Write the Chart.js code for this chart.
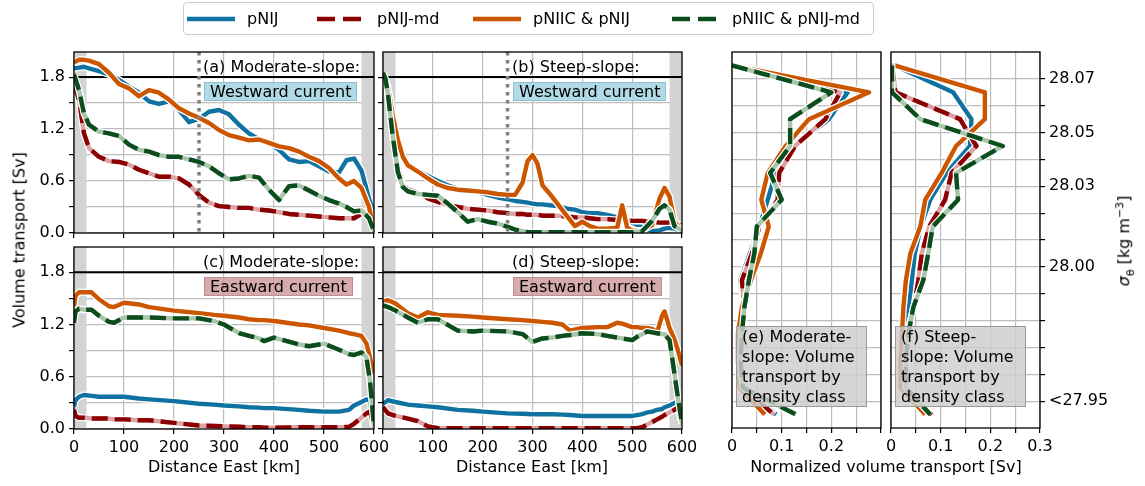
<!DOCTYPE html>
<html lang="en">
<head>
<meta charset="UTF-8">
<title>Volume transport</title>
<script src="https://cdn.jsdelivr.net/npm/chart.js"></script>
<style>
    body { margin: 0; background: #fff; font-family: 'DejaVu Sans', sans-serif; color: #000; }
    #fig { position: relative; width: 1145px; height: 486px; overflow: hidden; }
    #fig canvas { position: absolute; left: 0; top: 0; }
    .txt { position: absolute; font-size: 16px; line-height: 19px; white-space: nowrap; }
    .cur { position: absolute; font-size: 16px; line-height: 17px; padding: 0 5px; white-space: nowrap; }
    .west { background: rgba(173, 216, 230, 0.95); border: 1px solid #8fc0d2; }
    .east { background: rgba(205, 150, 150, 0.8); border: 1px solid #c09090; }
    .note { position: absolute; width: 119px; height: 79px; padding: 0 5px; font-size: 16px; line-height: 20px;
            background: rgba(205, 205, 205, 0.82); border: 1.5px solid #999; }
    .title { position: absolute; font-size: 16px; white-space: nowrap; transform: translate(-50%, -50%); }
    .vtitle { transform: translate(-50%, -50%) rotate(-90deg); }
    #legend { position: absolute; left: 183px; top: 2px; width: 689px; height: 31px; border: 1px solid #ccc;
              border-radius: 4px; background: #fff; }
    .item { position: absolute; top: 0; height: 31px; display: flex; align-items: center; font-size: 16px; }
    .item svg { margin-right: 12px; }
</style>
</head>
<body>
<div id="fig">
    <canvas id="pa" width="1145" height="486"></canvas>
    <canvas id="pb" width="1145" height="486"></canvas>
    <canvas id="pc" width="1145" height="486"></canvas>
    <canvas id="pd" width="1145" height="486"></canvas>
    <canvas id="pe" width="1145" height="486"></canvas>
    <canvas id="pf" width="1145" height="486"></canvas>

    <!-- legend -->
    <div id="legend">
        <div class="item" style="left:3px"><svg width="48" height="10"><line x1="0" y1="5" x2="48" y2="5" stroke="#1072a0" stroke-width="4.4"/></svg>pNIJ</div>
        <div class="item" style="left:133px"><svg width="48" height="10"><line x1="0" y1="5" x2="48" y2="5" stroke="#8b0000" stroke-width="4.4" stroke-dasharray="18 8"/></svg>pNIJ-md</div>
        <div class="item" style="left:289px"><svg width="48" height="10"><line x1="0" y1="5" x2="48" y2="5" stroke="#cc5500" stroke-width="4.4"/></svg>pNIIC &amp; pNIJ</div>
        <div class="item" style="left:488px"><svg width="48" height="10"><line x1="0" y1="5" x2="48" y2="5" stroke="#0b4d1c" stroke-width="4.4" stroke-dasharray="18 8"/></svg>pNIIC &amp; pNIJ-md</div>
    </div>

    <!-- panel notes -->
    <div class="txt" style="left:203px;top:57px">(a) Moderate-slope:</div>
    <div class="cur west" style="left:204px;top:82px">Westward current</div>
    <div class="txt" style="left:512px;top:57px">(b) Steep-slope:</div>
    <div class="cur west" style="left:513px;top:82px">Westward current</div>
    <div class="txt" style="left:203px;top:252px">(c) Moderate-slope:</div>
    <div class="cur east" style="left:204px;top:277px">Eastward current</div>
    <div class="txt" style="left:512px;top:252px">(d) Steep-slope:</div>
    <div class="cur east" style="left:513px;top:277px">Eastward current</div>
    <div class="note" style="left:736px;top:326px">(e) Moderate-<br>slope: Volume<br>transport by<br>density class</div>
    <div class="note" style="left:895px;top:326px">(f) Steep-<br>slope: Volume<br>transport by<br>density class</div>

    <!-- axis titles -->
    <div class="title vtitle" style="left:19px;top:240px">Volume transport [Sv]</div>
    <div class="title" style="left:224px;top:466px">Distance East [km]</div>
    <div class="title" style="left:532px;top:466px">Distance East [km]</div>
    <div class="title" style="left:886px;top:466px">Normalized volume transport [Sv]</div>
    <div class="title vtitle" style="left:1125px;top:241px"><i>σ</i><sub style="font-size:11px">θ</sub> [kg m<sup style="font-size:11px">−3</sup>]</div>
</div>

<script>
    // ---- data ----
    const seriesNames = ['pNIJ', 'pNIJ-md', 'pNIIC & pNIJ', 'pNIIC & pNIJ-md'];

    // (a) moderate slope, westward
    const distA = [0, 10, 20, 30, 50, 70, 90, 110, 130, 150, 170, 190, 210, 230, 250, 270, 290, 310, 330, 350,
                   370, 390, 410, 430, 450, 470, 490, 510, 530, 545, 560, 575, 590, 600];
    const aPNIJ = [1.90, 1.91, 1.92, 1.90, 1.87, 1.83, 1.77, 1.69, 1.62, 1.52, 1.49, 1.52, 1.42, 1.28, 1.32, 1.40,
                   1.42, 1.37, 1.25, 1.15, 1.08, 1.04, 0.96, 0.85, 0.82, 0.83, 0.77, 0.71, 0.70, 0.84, 0.86, 0.72, 0.40, 0.23];
    const aPNIJmd = [1.71, 1.54, 1.15, 0.98, 0.88, 0.83, 0.82, 0.79, 0.73, 0.69, 0.65, 0.65, 0.63, 0.56, 0.44, 0.35,
                     0.31, 0.30, 0.29, 0.29, 0.27, 0.26, 0.24, 0.22, 0.21, 0.20, 0.19, 0.18, 0.17, 0.17, 0.17, 0.22, 0.27, 0.04];
    const aPNIIC = [1.97, 2.00, 2.00, 1.99, 1.95, 1.85, 1.72, 1.67, 1.58, 1.65, 1.62, 1.54, 1.44, 1.38, 1.33, 1.27,
                    1.19, 1.13, 1.10, 1.07, 1.08, 1.04, 1.00, 0.98, 0.94, 0.88, 0.83, 0.75, 0.63, 0.56, 0.60, 0.52, 0.30, 0.04];
    const aPNIICmd = [1.83, 1.65, 1.38, 1.25, 1.17, 1.15, 1.12, 1.02, 0.96, 0.94, 0.90, 0.88, 0.88, 0.85, 0.82, 0.77,
                      0.69, 0.62, 0.63, 0.66, 0.64, 0.50, 0.38, 0.54, 0.55, 0.49, 0.43, 0.38, 0.34, 0.30, 0.25, 0.26, 0.17, 0.02];

    // (b) steep slope, westward
    const distB = [0, 5, 10, 20, 30, 40, 50, 70, 90, 110, 130, 150, 170, 190, 210, 230, 250, 265, 280, 290, 300,
                   310, 320, 335, 350, 370, 385, 400, 415, 430, 450, 470, 480, 490, 500, 520, 540, 555, 565, 575, 585, 600];
    const bPNIJ = [1.80, 1.76, 1.68, 1.30, 1.05, 0.88, 0.80, 0.72, 0.66, 0.60, 0.55, 0.51, 0.49, 0.47, 0.44, 0.41,
                   0.39, 0.37, 0.36, 0.35, 0.34, 0.33, 0.33, 0.32, 0.31, 0.28, 0.27, 0.24, 0.23, 0.23, 0.21, 0.18,
                   0.17, 0.15, 0.12, 0.07, 0.02, 0.03, 0.05, 0.06, 0.05, 0.02];
    const bPNIJmd = [1.82, 1.75, 1.60, 1.10, 0.75, 0.56, 0.50, 0.46, 0.40, 0.36, 0.32, 0.30, 0.28, 0.27, 0.26, 0.24,
                     0.23, 0.22, 0.22, 0.21, 0.21, 0.21, 0.20, 0.20, 0.20, 0.19, 0.18, 0.18, 0.17, 0.16, 0.16, 0.15,
                     0.15, 0.15, 0.14, 0.14, 0.13, 0.12, 0.12, 0.12, 0.11, 0.09];
    const bPNIIC = [1.80, 1.77, 1.69, 1.34, 1.07, 0.88, 0.78, 0.71, 0.63, 0.56, 0.52, 0.50, 0.49, 0.48, 0.47, 0.45,
                    0.44, 0.44, 0.58, 0.83, 0.90, 0.80, 0.55, 0.45, 0.34, 0.19, 0.08, 0.13, 0.08, 0.05, 0.05, 0.06,
                    0.32, 0.06, 0.03, 0.03, 0.09, 0.40, 0.52, 0.42, 0.13, 0.03];
    const bPNIICmd = [1.85, 1.78, 1.60, 1.10, 0.70, 0.53, 0.48, 0.45, 0.44, 0.43, 0.34, 0.24, 0.13, 0.16, 0.13, 0.11,
                      0.07, 0.04, 0.02, 0.01, 0.01, 0.01, 0.01, 0.01, 0.01, 0.01, 0.01, 0.01, 0.01, 0.01, 0.01, 0.01,
                      0.01, 0.01, 0.01, 0.02, 0.14, 0.28, 0.32, 0.27, 0.08, 0.03];

    // (c) moderate slope, eastward
    const distC = [0, 3, 10, 20, 35, 50, 70, 80, 100, 130, 150, 200, 250, 280, 300, 330, 350, 370, 380, 400,
                   450, 470, 500, 530, 550, 560, 575, 585, 592, 600];
    const cPNIJ = [0.26, 0.33, 0.37, 0.39, 0.38, 0.37, 0.37, 0.37, 0.37, 0.35, 0.34, 0.32, 0.29, 0.28, 0.27, 0.26,
                   0.25, 0.245, 0.24, 0.24, 0.22, 0.21, 0.20, 0.20, 0.22, 0.27, 0.31, 0.34, 0.32, 0.03];
    const cPNIJmd = [0.22, 0.15, 0.13, 0.13, 0.12, 0.12, 0.12, 0.11, 0.11, 0.10, 0.10, 0.07, 0.04, 0.035, 0.03, 0.025,
                     0.02, 0.02, 0.015, 0.015, 0.02, 0.02, 0.02, 0.02, 0.025, 0.06, 0.13, 0.18, 0.20, 0.03];
    const cPNIIC = [1.41, 1.53, 1.57, 1.57, 1.57, 1.49, 1.41, 1.40, 1.45, 1.43, 1.40, 1.36, 1.33, 1.31, 1.30, 1.28,
                    1.26, 1.25, 1.25, 1.24, 1.20, 1.19, 1.16, 1.13, 1.10, 1.09, 1.07, 0.98, 0.82, 0.64];
    const cPNIICmd = [1.22, 1.35, 1.38, 1.37, 1.37, 1.30, 1.23, 1.22, 1.28, 1.28, 1.28, 1.27, 1.27, 1.24, 1.20, 1.10,
                      1.07, 1.04, 1.01, 1.05, 0.97, 0.95, 0.98, 0.91, 0.86, 0.85, 0.88, 0.82, 0.55, 0.03];

    // (d) steep slope, eastward
    const distD = [0, 10, 25, 50, 70, 90, 110, 150, 180, 200, 250, 280, 300, 320, 340, 360, 375, 400, 430, 450,
                   470, 480, 500, 510, 520, 530, 540, 550, 560, 565, 575, 585, 592, 600];
    const dPNIJ = [0.29, 0.33, 0.31, 0.28, 0.27, 0.26, 0.25, 0.22, 0.21, 0.20, 0.18, 0.175, 0.17, 0.17, 0.17, 0.165,
                   0.16, 0.15, 0.15, 0.15, 0.15, 0.15, 0.15, 0.16, 0.17, 0.19, 0.20, 0.22, 0.23, 0.25, 0.27, 0.30, 0.32, 0.06];
    const dPNIJmd = [0.25, 0.18, 0.15, 0.12, 0.09, 0.03, 0.01, 0.01, 0.01, 0.01, 0.01, 0.01, 0.01, 0.01, 0.01, 0.01,
                     0.01, 0.01, 0.01, 0.01, 0.01, 0.01, 0.01, 0.01, 0.02, 0.05, 0.08, 0.11, 0.14, 0.16, 0.19, 0.22, 0.25, 0.06];
    const dPNIIC = [1.46, 1.48, 1.44, 1.33, 1.28, 1.34, 1.31, 1.30, 1.29, 1.28, 1.26, 1.25, 1.24, 1.23, 1.22, 1.20,
                    1.13, 1.16, 1.17, 1.17, 1.22, 1.21, 1.17, 1.17, 1.16, 1.16, 1.15, 1.11, 1.30, 1.35, 1.16, 1.03, 0.90, 0.73];
    const dPNIICmd = [1.42, 1.40, 1.36, 1.28, 1.22, 1.26, 1.26, 1.13, 1.12, 1.13, 1.12, 1.09, 1.00, 1.04, 1.05, 1.07,
                      1.08, 1.10, 1.09, 1.07, 1.05, 1.04, 1.02, 1.06, 1.09, 1.12, 1.11, 1.10, 1.09, 1.09, 1.02, 0.63, 0.35, 0.06];

    // (e), (f) normalized transport by density class
    const densityLevels = [28.075, 28.065, 28.055, 28.045, 28.035, 28.025, 28.015, 28.005, 27.995, 27.985,
                           27.975, 27.965, 27.955, 27.945];
    const ePNIJ = [0, 0.233, 0.195, 0.125, 0.088, 0.072, 0.055, 0.036, 0.017, 0.025, 0.02, 0.015, 0.02, 0.089];
    const ePNIJmd = [0, 0.218, 0.188, 0.127, 0.095, 0.092, 0.055, 0.040, 0.020, 0.025, 0.02, 0.015, 0.02, 0.085];
    const ePNIIC = [0, 0.276, 0.155, 0.108, 0.072, 0.059, 0.074, 0.058, 0.038, 0.020, 0.012, 0.012, 0.015, 0.066];
    const ePNIICmd = [0, 0.200, 0.117, 0.117, 0.077, 0.100, 0.050, 0.045, 0.034, 0.025, 0.020, 0.017, 0.022, 0.129];
    const fPNIJ = [0.007, 0.125, 0.162, 0.159, 0.112, 0.079, 0.060, 0.048, 0.042, 0.036, 0.025, 0.020, 0.025, 0.080];
    const fPNIJmd = [0.002, 0.009, 0.139, 0.172, 0.122, 0.109, 0.077, 0.062, 0.055, 0.046, 0.032, 0.025, 0.025, 0.082];
    const fPNIIC = [0.007, 0.189, 0.189, 0.131, 0.102, 0.069, 0.059, 0.039, 0.030, 0.025, 0.022, 0.019, 0.019, 0.069];
    const fPNIICmd = [0.002, 0.002, 0.059, 0.225, 0.131, 0.135, 0.084, 0.075, 0.065, 0.045, 0.035, 0.030, 0.030, 0.079];

    // ---- axes ----
    const transportTicks = [0, 0.3, 0.6, 0.9, 1.2, 1.5, 1.8];
    const transportLabels = ['0.0', '', '0.6', '', '1.2', '', '1.8'];
    const distanceTicks = [0, 100, 200, 300, 400, 500, 600];
    const distanceLabels = ['0', '100', '200', '300', '400', '500', '600'];
    const distanceLabelsD = ['', '100', '200', '300', '400', '500', '600'];
    const normTicks = [0, 0.05, 0.1, 0.15, 0.2, 0.25, 0.3];
    const normLabelsE = ['0', '', '0.1', '', '0.2', '', ''];
    const normLabelsF = ['0', '', '0.1', '', '0.2', '', '0.3'];
    const densityTicks = [27.95, 27.96, 27.97, 27.98, 27.99, 28.00, 28.01, 28.02, 28.03, 28.04, 28.05, 28.06, 28.07];
    const densityLabels = ['<27.95', '', '', '', '', '28.00', '', '', '28.03', '', '28.05', '', '28.07'];
    const blank = n => Array(n).fill('');

    const refLevel = 1.8;        // black reference line
    const splitKm = 250;         // dotted marker in westward panels
    const shelfBands = [[0, 25], [575, 600]];

    const styles = [
        { color: '#1072a0' },
        { color: '#8b0000', under: '#dba3a6', dash: [16, 7] },
        { color: '#cc5500' },
        { color: '#0b4d1c', under: '#a9c5ac', dash: [16, 7] }
    ];

    // room given to each axis box (tick labels are clipped to it)
    const AXIS_W = 70, AXIS_H = 30;

    const decor = {
        id: 'decor',
        beforeDatasetsDraw(chart, args, o) {
            const { ctx, chartArea: a, scales: { x, y } } = chart;
            ctx.save();
            ctx.fillStyle = '#d3d3d3';
            (o.bands || []).forEach(([b0, b1]) => {
                const p0 = x.getPixelForValue(b0), p1 = x.getPixelForValue(b1);
                ctx.fillRect(p0, a.top, p1 - p0, a.bottom - a.top);
            });
            if (o.ref != null) {
                const py = y.getPixelForValue(o.ref);
                ctx.strokeStyle = '#000';
                ctx.lineWidth = 2;
                ctx.beginPath(); ctx.moveTo(a.left, py); ctx.lineTo(a.right, py); ctx.stroke();
            }
            ctx.restore();
        },
        afterDatasetsDraw(chart, args, o) {
            const { ctx, chartArea: a, scales: { x } } = chart;
            ctx.save();
            if (o.marker != null) {
                const px = x.getPixelForValue(o.marker);
                ctx.strokeStyle = '#808080';
                ctx.lineWidth = 3.5;
                ctx.setLineDash([3.5, 4.5]);
                ctx.beginPath(); ctx.moveTo(px, a.top); ctx.lineTo(px, a.bottom); ctx.stroke();
                ctx.setLineDash([]);
            }
            ctx.strokeStyle = '#000';
            ctx.lineWidth = 1.3;
            ctx.strokeRect(a.left, a.top, a.right - a.left, a.bottom - a.top);
            ctx.restore();
        }
    };

    function axis(position, range, ticks, labels, drawTicks) {
        return {
            type: 'linear', position, min: range[0], max: range[1],
            afterBuildTicks: s => { s.ticks = ticks.map(v => ({ value: v })); },
            afterFit: s => { if (s.isHorizontal()) s.height = AXIS_H; else s.width = AXIS_W; },
            ticks: {
                autoSkip: false, maxRotation: 0, padding: 4, color: '#000',
                font: { family: 'DejaVu Sans', size: 16 },
                callback: (v, i) => labels[i]
            },
            grid: { color: '#bdbdbd', lineWidth: 1.2, drawTicks: drawTicks, tickLength: 5,
                    tickColor: '#000', tickWidth: 1.2 },
            border: { display: false }
        };
    }

    function buildDatasets(pointSets) {
        const out = [];
        pointSets.forEach((pts, k) => {
            const st = styles[k];
            const base = { label: seriesNames[k], data: pts, pointRadius: 0, tension: 0, fill: false, clip: 0,
                           borderJoinStyle: 'round', borderCapStyle: 'butt' };
            out.push({ ...base, borderColor: '#ffffff', borderWidth: 7 });
            if (st.under) out.push({ ...base, borderColor: st.under, borderWidth: 4.4 });
            out.push({ ...base, borderColor: st.color, borderWidth: 4.4, borderDash: st.dash || [] });
        });
        return out.reverse();   // first dataset is drawn on top
    }

    function makePanel(id, area, xAxis, yAxis, pointSets, decorOpts) {
        const [l, t, r, b] = area;
        const yRight = yAxis.position === 'right';
        new Chart(document.getElementById(id), {
            type: 'line',
            data: { datasets: buildDatasets(pointSets) },
            options: {
                responsive: false, animation: false, devicePixelRatio: 1, events: [],
                layout: { padding: {
                    left: yRight ? l : l - AXIS_W,
                    right: yRight ? 1145 - r - AXIS_W : 1145 - r,
                    top: t,
                    bottom: 486 - b - AXIS_H
                } },
                plugins: { legend: { display: false }, tooltip: { enabled: false }, decor: decorOpts },
                scales: { x: xAxis, y: yAxis }
            },
            plugins: [decor]
        });
    }

    const alongPts = (dist, vals) => dist.map((d, i) => ({ x: d, y: vals[i] }));
    const profilePts = vals => densityLevels.map((d, i) => ({ x: vals[i], y: d }));

    const transportRange = [0, 2.09];
    const distanceRange = [0, 600];
    const normRange = [0, 0.3];
    const densityRange = [27.94, 28.08];

    makePanel('pa', [74, 52, 374, 233],
        axis('bottom', distanceRange, distanceTicks, blank(7), true),
        axis('left', transportRange, transportTicks, transportLabels, true),
        [aPNIJ, aPNIJmd, aPNIIC, aPNIICmd].map(v => alongPts(distA, v)),
        { bands: shelfBands, ref: refLevel, marker: splitKm });
    makePanel('pb', [383, 52, 682, 233],
        axis('bottom', distanceRange, distanceTicks, blank(7), true),
        axis('left', transportRange, transportTicks, blank(7), true),
        [bPNIJ, bPNIJmd, bPNIIC, bPNIICmd].map(v => alongPts(distB, v)),
        { bands: shelfBands, ref: refLevel, marker: splitKm });
    makePanel('pc', [74, 247, 374, 429],
        axis('bottom', distanceRange, distanceTicks, distanceLabels, true),
        axis('left', transportRange, transportTicks, transportLabels, true),
        [cPNIJ, cPNIJmd, cPNIIC, cPNIICmd].map(v => alongPts(distC, v)),
        { bands: shelfBands, ref: refLevel });
    makePanel('pd', [383, 247, 682, 429],
        axis('bottom', distanceRange, distanceTicks, distanceLabelsD, true),
        axis('left', transportRange, transportTicks, blank(7), true),
        [dPNIJ, dPNIJmd, dPNIIC, dPNIICmd].map(v => alongPts(distD, v)),
        { bands: shelfBands, ref: refLevel });
    makePanel('pe', [732, 52, 881, 428],
        axis('bottom', normRange, normTicks, normLabelsE, true),
        axis('right', densityRange, densityTicks, blank(13), false),
        [ePNIJ, ePNIJmd, ePNIIC, ePNIICmd].map(profilePts),
        {});
    makePanel('pf', [891, 52, 1040, 428],
        axis('bottom', normRange, normTicks, normLabelsF, true),
        axis('right', densityRange, densityTicks, densityLabels, true),
        [fPNIJ, fPNIJmd, fPNIIC, fPNIICmd].map(profilePts),
        {});
</script>
</body>
</html>
